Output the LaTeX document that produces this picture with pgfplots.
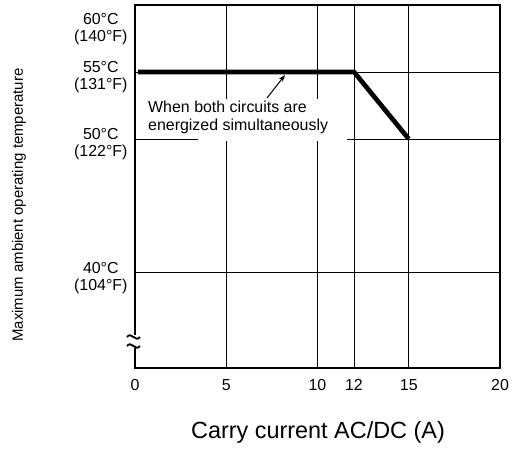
\documentclass[border=0pt]{standalone}
\usepackage{fontspec}
\setmainfont{Liberation Sans}
\usepackage{pgfplots}
\pgfplotsset{compat=1.18}
\usetikzlibrary{arrows.meta}

\begin{document}
\begin{tikzpicture}
% canvas the size of the reference, 1 px = 1 bp
\useasboundingbox (0,0) rectangle (519bp,472bp);
\begin{axis}[
    at={(135bp,104bp)}, anchor=south west,
    scale only axis, width=365bp, height=363bp,
    xmin=0, xmax=20, ymin=32.9, ymax=60,
    xtick={0,5,10,12,15,20},
    ytick={40,50,55},
    yticklabels={{40°C\\(104°F)},{50°C\\(122°F)},{55°C\\(131°F)}},
    extra y ticks={60},
    extra y tick labels={{60°C\\(140°F)}},
    extra y tick style={grid=none, yticklabel style={yshift=-19bp}},
    major tick length=0pt,
    grid=major,
    grid style={black, line width=0.8bp},
    axis line style={line width=2.7bp},
    tick label style={font=\fontsize{16}{17}\selectfont},
    xticklabel style={yshift=-8bp},
    yticklabel style={align=center, xshift=-4bp, yshift=-5bp},
    /pgf/number format/assume math mode=true,
    clip=false,
]
\fill[white] (axis cs:3.45,49.85) rectangle (axis cs:11.62,52.99);
\addplot[black, line width=4.7bp] coordinates {(0.16,55) (12,55) (15,50)};
\end{axis}
% annotation
\node[anchor=north west, inner sep=0pt, align=left,
      font=\fontsize{16}{18}\selectfont] at (148bp,371bp)
      {When both circuits are\\energized simultaneously};
\draw[line width=1bp, -{Stealth[length=7bp,width=5bp]}] (267bp,374bp) -- (285bp,397bp);
% axis break on the left
\fill[white] (130bp,124bp) rectangle (140bp,137bp);
\draw[line width=1.8bp] (127bp,135bp) .. controls (131bp,141bp) and (136bp,129bp) .. (140bp,135bp);
\draw[line width=1.8bp] (127bp,126bp) .. controls (131bp,132bp) and (136bp,120bp) .. (140bp,126bp);
% axis labels
\node[rotate=90, font=\fontsize{15}{16}\selectfont] at (19bp,267bp)
      {Maximum ambient operating temperature};
\node[font=\fontsize{23.5}{25}\selectfont] at (318bp,40bp) {Carry current AC/DC (A)};
\end{tikzpicture}
\end{document}
